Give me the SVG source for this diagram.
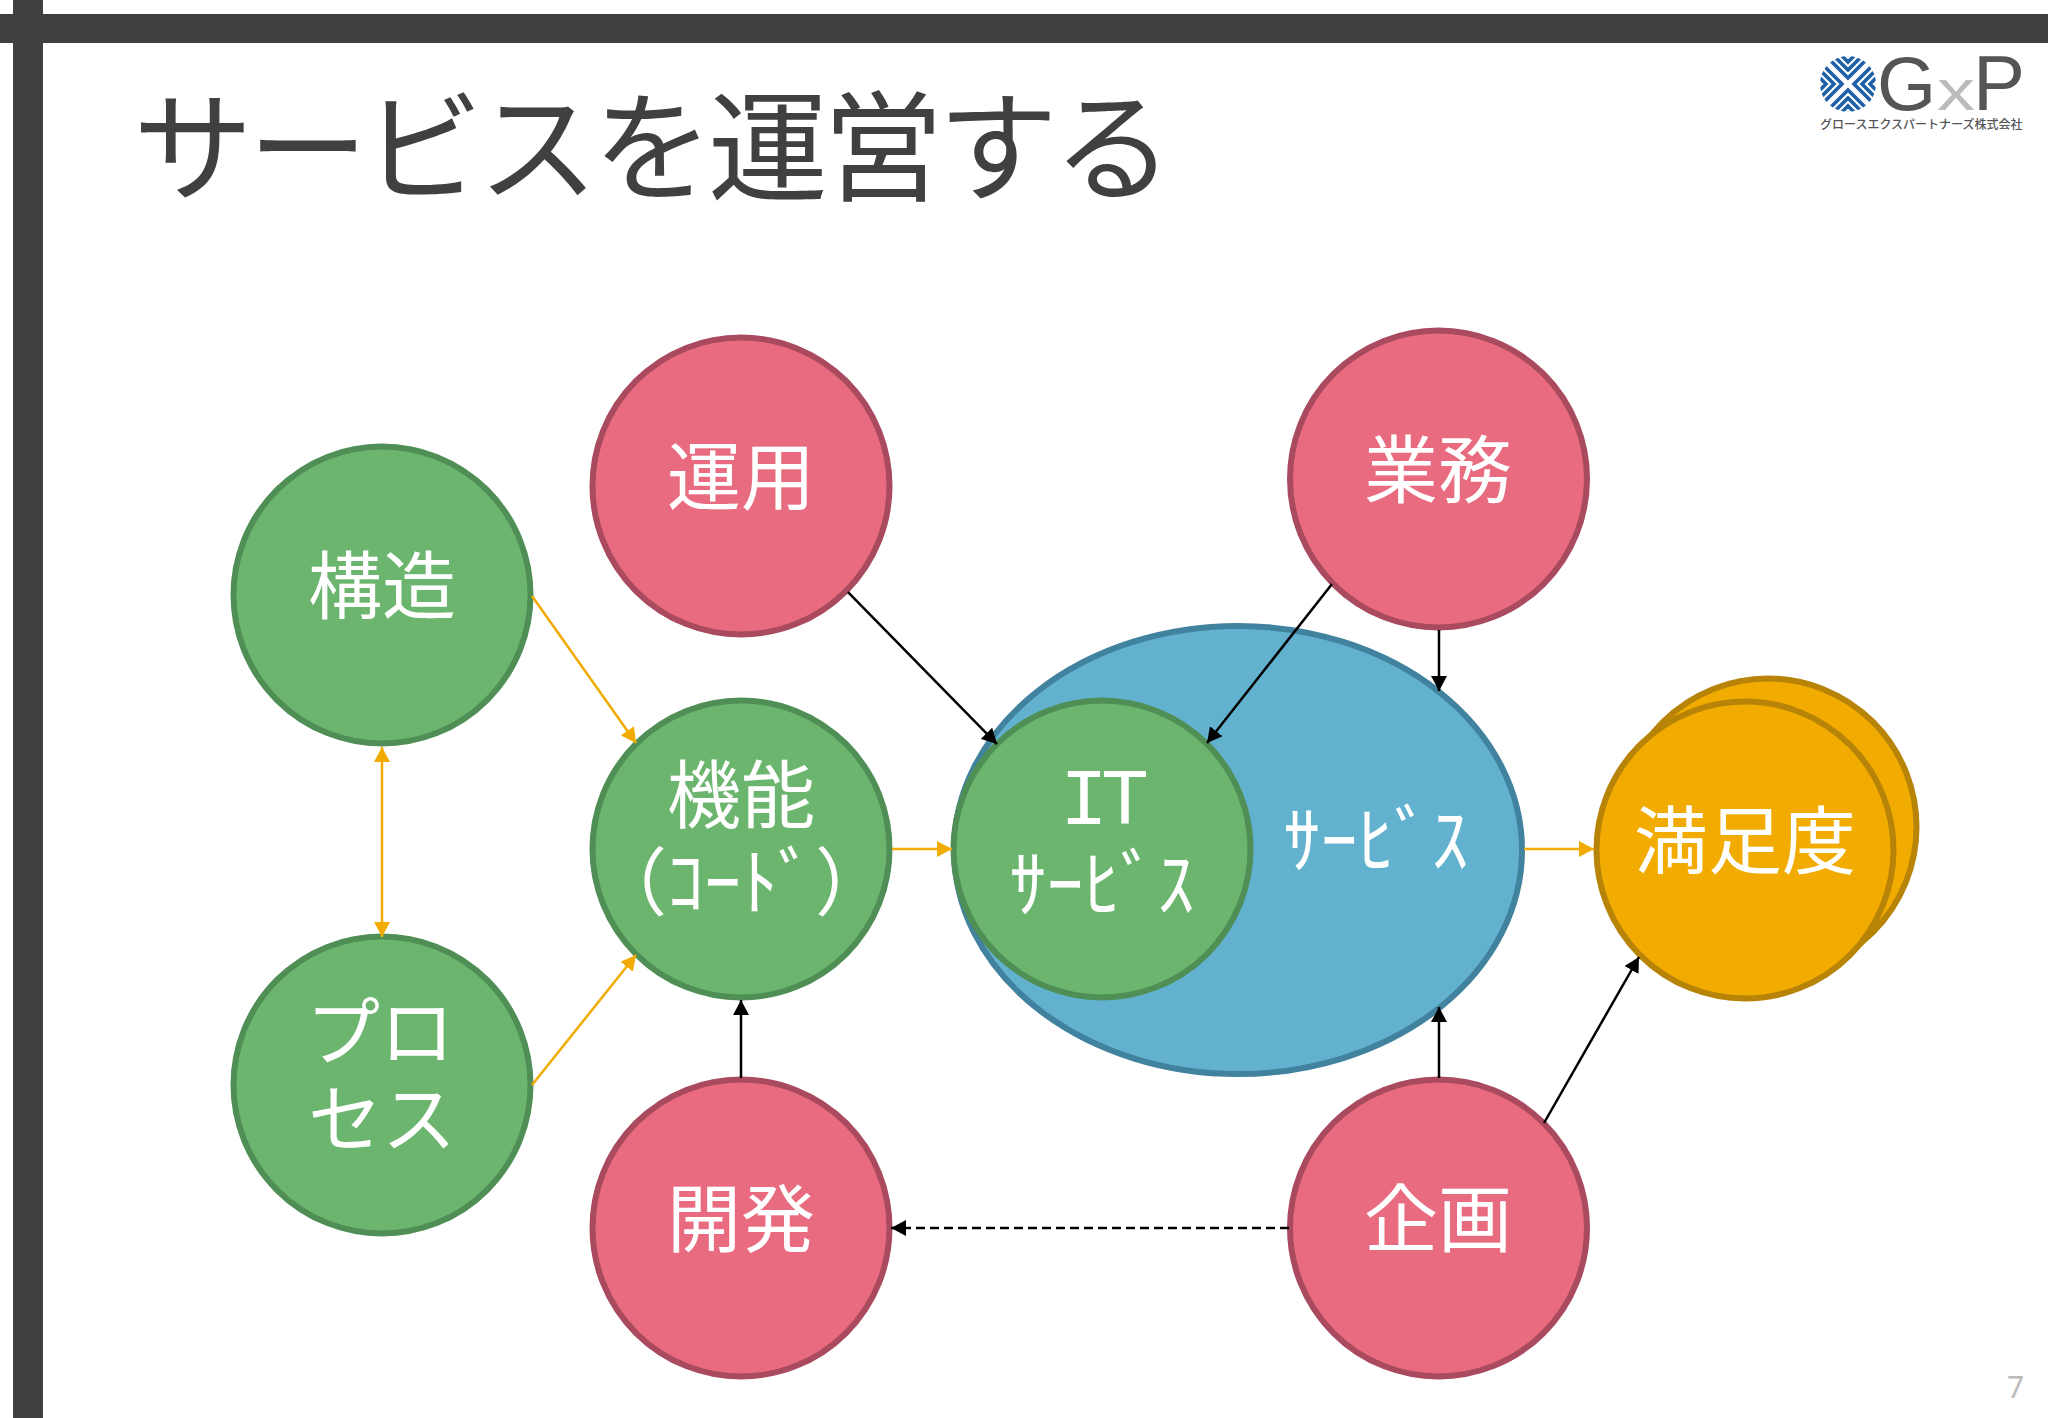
<svg xmlns="http://www.w3.org/2000/svg" xmlns:xlink="http://www.w3.org/1999/xlink" width="2048" height="1418" viewBox="0 0 2048 1418">
<style>
text{font-family:"Noto Sans CJK JP","Noto Sans",sans-serif}
.l{font-size:74px;fill:#fff;text-anchor:middle;font-weight:400}
.n{stroke-width:6}
.g{fill:#6cb56f;stroke:#4f8f55}
.r{fill:#e96b80;stroke:#a94a5e}
.o{fill:#f2ab00;stroke:#b78408}
.b{fill:#62b2cf;stroke:#41829e}
.k{stroke:#000;stroke-width:2.5;fill:none}
.y{stroke:#f2ab00;stroke-width:2.5;fill:none}
.ak{marker-end:url(#ka)}
.ay{marker-end:url(#ya)}
</style>
<defs>
<marker id="ka" markerUnits="userSpaceOnUse" markerWidth="16" markerHeight="16" refX="15" refY="8" orient="auto"><path d="M0 0L15 8L0 16Z" fill="#000"/></marker>
<marker id="ya" markerUnits="userSpaceOnUse" markerWidth="16" markerHeight="16" refX="15" refY="8" orient="auto"><path d="M0 0L15 8L0 16Z" fill="#f2ab00"/></marker>
<marker id="ys" markerUnits="userSpaceOnUse" markerWidth="16" markerHeight="16" refX="0" refY="8" orient="auto"><path d="M15 0L0 8L15 16Z" fill="#f2ab00"/></marker>
<clipPath id="lc"><circle cx="1848" cy="84" r="28"/></clipPath>
<g id="chev" fill="none" stroke="#1f5fa8" stroke-width="3.6"><path d="M-36 -30L-6 0L-36 30M-44 -30L-14 0L-44 30M-52 -30L-22 0L-52 30M-60 -30L-30 0L-60 30"/></g>
</defs>
<rect width="2048" height="1418" fill="#fff"/>
<g id="frame" fill="#404040"><rect x="0" y="14" width="2048" height="29"/><rect x="13" y="0" width="30" height="1418"/></g>
<text id="title" x="133" y="192" font-size="120" letter-spacing="-5" fill="#404040" font-weight="400">サービスを運営する</text>
<g id="logo">
<g clip-path="url(#lc)"><g transform="translate(1848 84)"><use xlink:href="#chev" href="#chev"/><use xlink:href="#chev" href="#chev" transform="rotate(90)"/><use xlink:href="#chev" href="#chev" transform="rotate(180)"/><use xlink:href="#chev" href="#chev" transform="rotate(270)"/></g></g>
<text x="1877" y="110" style="font-family:'Liberation Sans',sans-serif" font-size="76" fill="#555">G</text>
<text x="1937" y="110" style="font-family:'Liberation Sans',sans-serif" font-size="58" fill="#bbb" textLength="38" lengthAdjust="spacingAndGlyphs">x</text>
<text x="1973" y="110" style="font-family:'Liberation Sans',sans-serif" font-size="78" fill="#555">P</text>
<text x="1820" y="129" font-size="12" fill="#555" font-weight="500">グロースエクスパートナーズ株式会社</text>
</g>
<g id="service"><ellipse class="n b" cx="1238" cy="850" rx="284" ry="224"/><text class="l" x="1376" y="867">ｻｰﾋﾞｽ</text></g>
<g id="it"><circle class="n g" cx="1102" cy="849" r="148.5"/><text class="l" x="1101" y="824" style="font-family:'Liberation Mono',monospace;font-size:80px" letter-spacing="-7">IT</text><text class="l" x="1102" y="911">ｻｰﾋﾞｽ</text></g>
<g id="kinou"><circle class="n g" cx="741" cy="849" r="148.5"/><text class="l" x="741" y="822">機能</text><text class="l" x="741" y="909">（ｺｰﾄﾞ）</text></g>
<g id="kouzou"><circle class="n g" cx="382" cy="595" r="148.5"/><text class="l" x="382" y="613">構造</text></g>
<g id="process"><circle class="n g" cx="382" cy="1085" r="148.5"/><text class="l" x="380" y="1059">プロ</text><text class="l" x="382" y="1146">セス</text></g>
<g id="unyou"><circle class="n r" cx="741" cy="486" r="148.5"/><text class="l" x="741" y="504">運用</text></g>
<g id="gyoumu"><circle class="n r" cx="1438.5" cy="479" r="148.5"/><text class="l" x="1438" y="497">業務</text></g>
<g id="kaihatsu"><circle class="n r" cx="741" cy="1228" r="148.5"/><text class="l" x="741" y="1246">開発</text></g>
<g id="kikaku"><circle class="n r" cx="1438.5" cy="1228" r="148.5"/><text class="l" x="1438" y="1246">企画</text></g>
<g id="manzoku"><circle class="n o" cx="1768" cy="827" r="148.5"/><circle class="n o" cx="1745" cy="850" r="148.5"/><text class="l" x="1745" y="868">満足度</text></g>
<g id="connectors">
<path class="k ak" d="M848 592L997 744"/>
<path class="k ak" d="M1332 584L1207 743"/>
<path class="k ak" d="M1439 630V691"/>
<path class="k ak" d="M1439 1078V1007"/>
<path class="k ak" d="M1544 1123L1639 957"/>
<path class="k ak" d="M741 1078V1000"/>
<path class="k ak" d="M1289 1228H891" stroke-dasharray="9 5"/>
<path class="y ay" d="M532 596L636 743"/>
<path class="y ay" d="M532 1085L636 955"/>
<path class="y ay" style="marker-start:url(#ys)" d="M382 747V937"/>
<path class="y ay" d="M892 849H952"/>
<path class="y ay" d="M1524 849H1594"/>
</g>
<text id="page" x="2007" y="1398" font-size="30" fill="#bbb" style="font-family:'Noto Sans',sans-serif">7</text>
</svg>
